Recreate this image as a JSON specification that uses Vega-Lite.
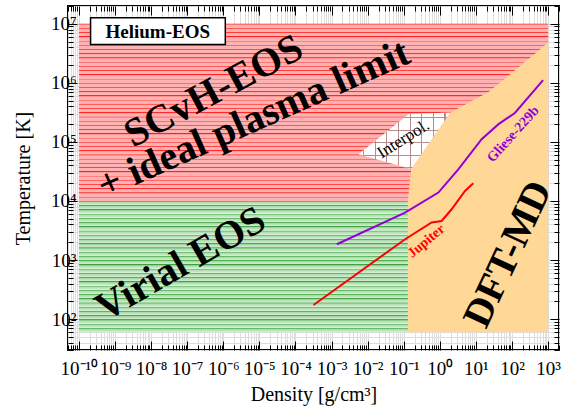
{
  "$schema": "https://vega.github.io/schema/vega-lite/v6.json",
  "width": 491,
  "height": 344,
  "autosize": {"type": "none"},
  "padding": {"left": 68, "top": 6, "right": 5, "bottom": 60},
  "background": "white",
  "config": {"view": {"stroke": "black", "strokeWidth": 2}, "font": "Liberation Serif"},
  "datasets": {
    "scvh": [{"x": 1e-10, "x2": 1000, "y": 10000, "y2": 10000000}],
    "virial": [{"x": 1e-10, "x2": 0.14, "y": 60, "y2": 10000}],
    "dft": [
      {"x": 0.13, "y": 10000, "y2": 60},
      {"x": 0.162, "y": 34700, "y2": 60},
      {"x": 1.95, "y": 316000, "y2": 60},
      {"x": 21.9, "y": 690000, "y2": 60},
      {"x": 282, "y": 2500000, "y2": 60},
      {"x": 1000, "y": 4800000, "y2": 60}
    ],
    "interpol": [
      {"x": 0.0056, "y": 61700, "y2": 61700},
      {"x": 0.135, "y": 295000, "y2": 35800},
      {"x": 0.162, "y": 296000, "y2": 34700},
      {"x": 1.95, "y": 316000, "y2": 316000}
    ],
    "gliese": [
      {"x": 0.0014, "y": 1850},
      {"x": 0.109, "y": 6370},
      {"x": 0.91, "y": 13900},
      {"x": 3.25, "y": 34400},
      {"x": 14.4, "y": 111000},
      {"x": 41.5, "y": 198000},
      {"x": 120, "y": 309000},
      {"x": 724, "y": 1110000}
    ],
    "jupiter": [
      {"x": 0.000316, "y": 173},
      {"x": 0.109, "y": 2250},
      {"x": 0.593, "y": 4320},
      {"x": 1.12, "y": 4590},
      {"x": 2.12, "y": 7240},
      {"x": 4.98, "y": 14800},
      {"x": 8.45, "y": 20000}
    ],
    "labels": [
      {"name": "scvh", "text": "SCvH-EOS", "x": 5.42e-7, "y": 716000},
      {"name": "plasma", "text": "+ ideal plasma limit", "x": 6.93e-6, "y": 241000},
      {"name": "virial", "text": "Virial EOS", "x": 6.64e-8, "y": 851},
      {"name": "dft", "text": "DFT-MD", "x": 78.5, "y": 1256},
      {"name": "interpol", "text": "Interpol.", "x": 0.0977, "y": 111000},
      {"name": "gliese", "text": "Gliese-229b", "x": 108, "y": 134000},
      {"name": "jupiter", "text": "Jupiter", "x": 0.424, "y": 2085},
      {"name": "helium", "text": "Helium-EOS", "x": 1.53e-8, "y": 7400000}
    ],
    "box": [{"x": 2.11e-10, "x2": 1.14e-6, "y": 12600000, "y2": 4470000}]
  },
  "layer": [
    {
      "data": {"name": "scvh"},
      "mark": {"type": "rect", "fill": {"gradient": "linear", "x1": 0, "y1": 0, "x2": 0, "y2": 1, "stops": [
        {"offset": 0, "color": "#ff1a1a"}, {"offset": 0.0071, "color": "#ffb2b2"}, {"offset": 0.0231, "color": "#ffb2b2"},
        {"offset": 0.0238, "color": "#ff1a1a"}, {"offset": 0.0309, "color": "#ffb2b2"}, {"offset": 0.0469, "color": "#ffb2b2"},
        {"offset": 0.0476, "color": "#ff1a1a"}, {"offset": 0.0547, "color": "#ffb2b2"}, {"offset": 0.0707, "color": "#ffb2b2"},
        {"offset": 0.0714, "color": "#ff1a1a"}, {"offset": 0.0785, "color": "#ffb2b2"}, {"offset": 0.0945, "color": "#ffb2b2"},
        {"offset": 0.0952, "color": "#ff1a1a"}, {"offset": 0.1023, "color": "#ffb2b2"}, {"offset": 0.1183, "color": "#ffb2b2"},
        {"offset": 0.1190, "color": "#ff1a1a"}, {"offset": 0.1261, "color": "#ffb2b2"}, {"offset": 0.1421, "color": "#ffb2b2"},
        {"offset": 0.1429, "color": "#ff1a1a"}, {"offset": 0.1500, "color": "#ffb2b2"}, {"offset": 0.1660, "color": "#ffb2b2"},
        {"offset": 0.1667, "color": "#ff1a1a"}, {"offset": 0.1738, "color": "#ffb2b2"}, {"offset": 0.1898, "color": "#ffb2b2"},
        {"offset": 0.1905, "color": "#ff1a1a"}, {"offset": 0.1976, "color": "#ffb2b2"}, {"offset": 0.2136, "color": "#ffb2b2"},
        {"offset": 0.2143, "color": "#ff1a1a"}, {"offset": 0.2214, "color": "#ffb2b2"}, {"offset": 0.2374, "color": "#ffb2b2"},
        {"offset": 0.2381, "color": "#ff1a1a"}, {"offset": 0.2452, "color": "#ffb2b2"}, {"offset": 0.2612, "color": "#ffb2b2"},
        {"offset": 0.2619, "color": "#ff1a1a"}, {"offset": 0.2690, "color": "#ffb2b2"}, {"offset": 0.2850, "color": "#ffb2b2"},
        {"offset": 0.2857, "color": "#ff1a1a"}, {"offset": 0.2928, "color": "#ffb2b2"}, {"offset": 0.3088, "color": "#ffb2b2"},
        {"offset": 0.3095, "color": "#ff1a1a"}, {"offset": 0.3166, "color": "#ffb2b2"}, {"offset": 0.3326, "color": "#ffb2b2"},
        {"offset": 0.3333, "color": "#ff1a1a"}, {"offset": 0.3404, "color": "#ffb2b2"}, {"offset": 0.3564, "color": "#ffb2b2"},
        {"offset": 0.3571, "color": "#ff1a1a"}, {"offset": 0.3642, "color": "#ffb2b2"}, {"offset": 0.3802, "color": "#ffb2b2"},
        {"offset": 0.3810, "color": "#ff1a1a"}, {"offset": 0.3881, "color": "#ffb2b2"}, {"offset": 0.4041, "color": "#ffb2b2"},
        {"offset": 0.4048, "color": "#ff1a1a"}, {"offset": 0.4119, "color": "#ffb2b2"}, {"offset": 0.4279, "color": "#ffb2b2"},
        {"offset": 0.4286, "color": "#ff1a1a"}, {"offset": 0.4357, "color": "#ffb2b2"}, {"offset": 0.4517, "color": "#ffb2b2"},
        {"offset": 0.4524, "color": "#ff1a1a"}, {"offset": 0.4595, "color": "#ffb2b2"}, {"offset": 0.4755, "color": "#ffb2b2"},
        {"offset": 0.4762, "color": "#ff1a1a"}, {"offset": 0.4833, "color": "#ffb2b2"}, {"offset": 0.4993, "color": "#ffb2b2"},
        {"offset": 0.5000, "color": "#ff1a1a"}, {"offset": 0.5071, "color": "#ffb2b2"}, {"offset": 0.5231, "color": "#ffb2b2"},
        {"offset": 0.5238, "color": "#ff1a1a"}, {"offset": 0.5309, "color": "#ffb2b2"}, {"offset": 0.5469, "color": "#ffb2b2"},
        {"offset": 0.5476, "color": "#ff1a1a"}, {"offset": 0.5547, "color": "#ffb2b2"}, {"offset": 0.5707, "color": "#ffb2b2"},
        {"offset": 0.5714, "color": "#ff1a1a"}, {"offset": 0.5785, "color": "#ffb2b2"}, {"offset": 0.5945, "color": "#ffb2b2"},
        {"offset": 0.5952, "color": "#ff1a1a"}, {"offset": 0.6023, "color": "#ffb2b2"}, {"offset": 0.6183, "color": "#ffb2b2"},
        {"offset": 0.6190, "color": "#ff1a1a"}, {"offset": 0.6261, "color": "#ffb2b2"}, {"offset": 0.6421, "color": "#ffb2b2"},
        {"offset": 0.6429, "color": "#ff1a1a"}, {"offset": 0.6500, "color": "#ffb2b2"}, {"offset": 0.6660, "color": "#ffb2b2"},
        {"offset": 0.6667, "color": "#ff1a1a"}, {"offset": 0.6738, "color": "#ffb2b2"}, {"offset": 0.6898, "color": "#ffb2b2"},
        {"offset": 0.6905, "color": "#ff1a1a"}, {"offset": 0.6976, "color": "#ffb2b2"}, {"offset": 0.7136, "color": "#ffb2b2"},
        {"offset": 0.7143, "color": "#ff1a1a"}, {"offset": 0.7214, "color": "#ffb2b2"}, {"offset": 0.7374, "color": "#ffb2b2"},
        {"offset": 0.7381, "color": "#ff1a1a"}, {"offset": 0.7452, "color": "#ffb2b2"}, {"offset": 0.7612, "color": "#ffb2b2"},
        {"offset": 0.7619, "color": "#ff1a1a"}, {"offset": 0.7690, "color": "#ffb2b2"}, {"offset": 0.7850, "color": "#ffb2b2"},
        {"offset": 0.7857, "color": "#ff1a1a"}, {"offset": 0.7928, "color": "#ffb2b2"}, {"offset": 0.8088, "color": "#ffb2b2"},
        {"offset": 0.8095, "color": "#ff1a1a"}, {"offset": 0.8166, "color": "#ffb2b2"}, {"offset": 0.8326, "color": "#ffb2b2"},
        {"offset": 0.8333, "color": "#ff1a1a"}, {"offset": 0.8404, "color": "#ffb2b2"}, {"offset": 0.8564, "color": "#ffb2b2"},
        {"offset": 0.8571, "color": "#ff1a1a"}, {"offset": 0.8642, "color": "#ffb2b2"}, {"offset": 0.8802, "color": "#ffb2b2"},
        {"offset": 0.8810, "color": "#ff1a1a"}, {"offset": 0.8881, "color": "#ffb2b2"}, {"offset": 0.9041, "color": "#ffb2b2"},
        {"offset": 0.9048, "color": "#ff1a1a"}, {"offset": 0.9119, "color": "#ffb2b2"}, {"offset": 0.9279, "color": "#ffb2b2"},
        {"offset": 0.9286, "color": "#ff1a1a"}, {"offset": 0.9357, "color": "#ffb2b2"}, {"offset": 0.9517, "color": "#ffb2b2"},
        {"offset": 0.9524, "color": "#ff1a1a"}, {"offset": 0.9595, "color": "#ffb2b2"}, {"offset": 0.9755, "color": "#ffb2b2"},
        {"offset": 0.9762, "color": "#ff1a1a"}, {"offset": 0.9833, "color": "#ffb2b2"}, {"offset": 1, "color": "#ffb2b2"}
      ]}},
      "encoding": {
        "x": {
          "field": "x", "type": "quantitative",
          "scale": {"type": "log", "domain": [5e-11, 2000], "nice": false},
          "axis": {
            "orient": "bottom", "title": "Density [g/cm³]", "domain": false,
            "values": [5e-11,6e-11,7e-11,8e-11,9e-11,1e-10,2e-10,3e-10,4e-10,5e-10,6e-10,7e-10,8e-10,9e-10,1e-9,2e-9,3e-9,4e-9,5e-9,6e-9,7e-9,8e-9,9e-9,1e-8,2e-8,3e-8,4e-8,5e-8,6e-8,7e-8,8e-8,9e-8,1e-7,2e-7,3e-7,4e-7,5e-7,6e-7,7e-7,8e-7,9e-7,1e-6,2e-6,3e-6,4e-6,5e-6,6e-6,7e-6,8e-6,9e-6,1e-5,2e-5,3e-5,4e-5,5e-5,6e-5,7e-5,8e-5,9e-5,1e-4,2e-4,3e-4,4e-4,5e-4,6e-4,7e-4,8e-4,9e-4,1e-3,2e-3,3e-3,4e-3,5e-3,6e-3,7e-3,8e-3,9e-3,1e-2,2e-2,3e-2,4e-2,5e-2,6e-2,7e-2,8e-2,9e-2,0.1,0.2,0.3,0.4,0.5,0.6,0.7,0.8,0.9,1,2,3,4,5,6,7,8,9,10,20,30,40,50,60,70,80,90,100,200,300,400,500,600,700,800,900,1000,2000],
            "labelExpr": "abs(log(datum.value)/LN10 - round(log(datum.value)/LN10)) < 0.001 ? '10' + ['⁻¹⁰','⁻⁹','⁻⁸','⁻⁷','⁻⁶','⁻⁵','⁻⁴','⁻³','⁻²','⁻¹','⁰','¹','²','³'][round(log(datum.value)/LN10)+10] : ''",
            "labelOverlap": false, "labelFlush": false, "labelFont": "Liberation Serif", "labelFontSize": 19, "labelColor": "black",
            "labelPadding": 18,
            "tickColor": "black", "tickWidth": 1,
            "tickSize": {"condition": {"test": "abs(log(datum.value)/LN10 - round(log(datum.value)/LN10)) < 0.001", "value": -9}, "value": -5},
            "titleFont": "Liberation Serif", "titleFontSize": 20, "titleFontWeight": "normal", "titleColor": "black", "titlePadding": 2
          }
        },
        "x2": {"field": "x2"},
        "y": {
          "field": "y", "type": "quantitative",
          "scale": {"type": "log", "domain": [30, 20000000], "nice": false},
          "axis": {
            "orient": "left", "title": "Temperature [K]", "domain": false,
            "values": [30,40,50,60,70,80,90,100,200,300,400,500,600,700,800,900,1000,2000,3000,4000,5000,6000,7000,8000,9000,10000,20000,30000,40000,50000,60000,70000,80000,90000,100000,200000,300000,400000,500000,600000,700000,800000,900000,1000000,2000000,3000000,4000000,5000000,6000000,7000000,8000000,9000000,10000000,20000000],
            "labelExpr": "abs(log(datum.value)/LN10 - round(log(datum.value)/LN10)) < 0.001 ? '10' + ['¹','²','³','⁴','⁵','⁶','⁷'][round(log(datum.value)/LN10)-1] : ''",
            "labelOverlap": false, "labelFlush": false, "labelFont": "Liberation Serif", "labelFontSize": 19, "labelColor": "black",
            "labelPadding": 1,
            "tickColor": "black", "tickWidth": 1,
            "tickSize": {"condition": {"test": "abs(log(datum.value)/LN10 - round(log(datum.value)/LN10)) < 0.001", "value": -9}, "value": -5},
            "titleFont": "Liberation Serif", "titleFontSize": 20, "titleFontWeight": "normal", "titleColor": "black", "titlePadding": 17
          }
        },
        "y2": {"field": "y2"}
      }
    },
    {
      "data": {"name": "scvh"},
      "mark": {"type": "rect", "opacity": 0},
      "encoding": {
        "x": {
          "field": "x", "type": "quantitative",
          "axis": {
            "orient": "top", "title": null, "domain": false, "labels": false,
            "values": [5e-11,6e-11,7e-11,8e-11,9e-11,1e-10,2e-10,3e-10,4e-10,5e-10,6e-10,7e-10,8e-10,9e-10,1e-9,2e-9,3e-9,4e-9,5e-9,6e-9,7e-9,8e-9,9e-9,1e-8,2e-8,3e-8,4e-8,5e-8,6e-8,7e-8,8e-8,9e-8,1e-7,2e-7,3e-7,4e-7,5e-7,6e-7,7e-7,8e-7,9e-7,1e-6,2e-6,3e-6,4e-6,5e-6,6e-6,7e-6,8e-6,9e-6,1e-5,2e-5,3e-5,4e-5,5e-5,6e-5,7e-5,8e-5,9e-5,1e-4,2e-4,3e-4,4e-4,5e-4,6e-4,7e-4,8e-4,9e-4,1e-3,2e-3,3e-3,4e-3,5e-3,6e-3,7e-3,8e-3,9e-3,1e-2,2e-2,3e-2,4e-2,5e-2,6e-2,7e-2,8e-2,9e-2,0.1,0.2,0.3,0.4,0.5,0.6,0.7,0.8,0.9,1,2,3,4,5,6,7,8,9,10,20,30,40,50,60,70,80,90,100,200,300,400,500,600,700,800,900,1000,2000],
            "tickColor": "black", "tickWidth": 1,
            "tickSize": {"condition": {"test": "abs(log(datum.value)/LN10 - round(log(datum.value)/LN10)) < 0.001", "value": -9}, "value": -5}
          }
        },
        "x2": {"field": "x2"},
        "y": {
          "field": "y", "type": "quantitative",
          "axis": {
            "orient": "right", "title": null, "domain": false, "labels": false,
            "values": [30,40,50,60,70,80,90,100,200,300,400,500,600,700,800,900,1000,2000,3000,4000,5000,6000,7000,8000,9000,10000,20000,30000,40000,50000,60000,70000,80000,90000,100000,200000,300000,400000,500000,600000,700000,800000,900000,1000000,2000000,3000000,4000000,5000000,6000000,7000000,8000000,9000000,10000000,20000000],
            "tickColor": "black", "tickWidth": 1,
            "tickSize": {"condition": {"test": "abs(log(datum.value)/LN10 - round(log(datum.value)/LN10)) < 0.001", "value": -9}, "value": -5}
          }
        },
        "y2": {"field": "y2"}
      }
    },
    {
      "data": {"name": "virial"},
      "mark": {"type": "rect", "fill": {"gradient": "linear", "x1": 0, "y1": 0, "x2": 0, "y2": 1, "stops": [
        {"offset": 0, "color": "#3c9f3c"}, {"offset": 0.0097, "color": "#a9dca9"}, {"offset": 0.0313, "color": "#d8f0d8"},
        {"offset": 0.0323, "color": "#3c9f3c"}, {"offset": 0.0420, "color": "#a9dca9"}, {"offset": 0.0636, "color": "#d8f0d8"},
        {"offset": 0.0645, "color": "#3c9f3c"}, {"offset": 0.0742, "color": "#a9dca9"}, {"offset": 0.0958, "color": "#d8f0d8"},
        {"offset": 0.0968, "color": "#3c9f3c"}, {"offset": 0.1065, "color": "#a9dca9"}, {"offset": 0.1281, "color": "#d8f0d8"},
        {"offset": 0.1290, "color": "#3c9f3c"}, {"offset": 0.1387, "color": "#a9dca9"}, {"offset": 0.1603, "color": "#d8f0d8"},
        {"offset": 0.1613, "color": "#3c9f3c"}, {"offset": 0.1710, "color": "#a9dca9"}, {"offset": 0.1926, "color": "#d8f0d8"},
        {"offset": 0.1935, "color": "#3c9f3c"}, {"offset": 0.2032, "color": "#a9dca9"}, {"offset": 0.2248, "color": "#d8f0d8"},
        {"offset": 0.2258, "color": "#3c9f3c"}, {"offset": 0.2355, "color": "#a9dca9"}, {"offset": 0.2571, "color": "#d8f0d8"},
        {"offset": 0.2581, "color": "#3c9f3c"}, {"offset": 0.2678, "color": "#a9dca9"}, {"offset": 0.2894, "color": "#d8f0d8"},
        {"offset": 0.2903, "color": "#3c9f3c"}, {"offset": 0.3000, "color": "#a9dca9"}, {"offset": 0.3216, "color": "#d8f0d8"},
        {"offset": 0.3226, "color": "#3c9f3c"}, {"offset": 0.3323, "color": "#a9dca9"}, {"offset": 0.3539, "color": "#d8f0d8"},
        {"offset": 0.3548, "color": "#3c9f3c"}, {"offset": 0.3645, "color": "#a9dca9"}, {"offset": 0.3861, "color": "#d8f0d8"},
        {"offset": 0.3871, "color": "#3c9f3c"}, {"offset": 0.3968, "color": "#a9dca9"}, {"offset": 0.4184, "color": "#d8f0d8"},
        {"offset": 0.4194, "color": "#3c9f3c"}, {"offset": 0.4291, "color": "#a9dca9"}, {"offset": 0.4507, "color": "#d8f0d8"},
        {"offset": 0.4516, "color": "#3c9f3c"}, {"offset": 0.4613, "color": "#a9dca9"}, {"offset": 0.4829, "color": "#d8f0d8"},
        {"offset": 0.4839, "color": "#3c9f3c"}, {"offset": 0.4936, "color": "#a9dca9"}, {"offset": 0.5152, "color": "#d8f0d8"},
        {"offset": 0.5161, "color": "#3c9f3c"}, {"offset": 0.5258, "color": "#a9dca9"}, {"offset": 0.5474, "color": "#d8f0d8"},
        {"offset": 0.5484, "color": "#3c9f3c"}, {"offset": 0.5581, "color": "#a9dca9"}, {"offset": 0.5797, "color": "#d8f0d8"},
        {"offset": 0.5806, "color": "#3c9f3c"}, {"offset": 0.5903, "color": "#a9dca9"}, {"offset": 0.6119, "color": "#d8f0d8"},
        {"offset": 0.6129, "color": "#3c9f3c"}, {"offset": 0.6226, "color": "#a9dca9"}, {"offset": 0.6442, "color": "#d8f0d8"},
        {"offset": 0.6452, "color": "#3c9f3c"}, {"offset": 0.6549, "color": "#a9dca9"}, {"offset": 0.6765, "color": "#d8f0d8"},
        {"offset": 0.6774, "color": "#3c9f3c"}, {"offset": 0.6871, "color": "#a9dca9"}, {"offset": 0.7087, "color": "#d8f0d8"},
        {"offset": 0.7097, "color": "#3c9f3c"}, {"offset": 0.7194, "color": "#a9dca9"}, {"offset": 0.7410, "color": "#d8f0d8"},
        {"offset": 0.7419, "color": "#3c9f3c"}, {"offset": 0.7516, "color": "#a9dca9"}, {"offset": 0.7732, "color": "#d8f0d8"},
        {"offset": 0.7742, "color": "#3c9f3c"}, {"offset": 0.7839, "color": "#a9dca9"}, {"offset": 0.8055, "color": "#d8f0d8"},
        {"offset": 0.8065, "color": "#3c9f3c"}, {"offset": 0.8162, "color": "#a9dca9"}, {"offset": 0.8378, "color": "#d8f0d8"},
        {"offset": 0.8387, "color": "#3c9f3c"}, {"offset": 0.8484, "color": "#a9dca9"}, {"offset": 0.8700, "color": "#d8f0d8"},
        {"offset": 0.8710, "color": "#3c9f3c"}, {"offset": 0.8807, "color": "#a9dca9"}, {"offset": 0.9023, "color": "#d8f0d8"},
        {"offset": 0.9032, "color": "#3c9f3c"}, {"offset": 0.9129, "color": "#a9dca9"}, {"offset": 0.9345, "color": "#d8f0d8"},
        {"offset": 0.9355, "color": "#3c9f3c"}, {"offset": 0.9452, "color": "#a9dca9"}, {"offset": 0.9668, "color": "#d8f0d8"},
        {"offset": 0.9677, "color": "#3c9f3c"}, {"offset": 0.9774, "color": "#a9dca9"}, {"offset": 1, "color": "#d8f0d8"}
      ]}},
      "encoding": {
        "x": {"field": "x", "type": "quantitative", "axis": null},
        "x2": {"field": "x2"},
        "y": {"field": "y", "type": "quantitative", "axis": null},
        "y2": {"field": "y2"}
      }
    },
    {
      "data": {"name": "dft"},
      "mark": {"type": "area", "fill": "#ffd898", "opacity": 1},
      "encoding": {
        "x": {"field": "x", "type": "quantitative", "axis": null},
        "y": {"field": "y", "type": "quantitative", "axis": null},
        "y2": {"field": "y2"}
      }
    },
    {
      "data": {"name": "interpol"},
      "mark": {"type": "area", "fill": "white", "opacity": 1},
      "encoding": {
        "x": {"field": "x", "type": "quantitative", "axis": null},
        "y": {"field": "y", "type": "quantitative", "axis": null},
        "y2": {"field": "y2"}
      }
    },
    {
      "data": {"name": "interpol"},
      "mark": {"type": "area", "opacity": 1, "fill": {"gradient": "linear", "x1": 0, "y1": 0, "x2": 1, "y2": 0, "stops": [
        {"offset": 0.048, "color": "rgba(180,140,140,0)"}, {"offset": 0.048, "color": "rgba(180,140,140,1)"}, {"offset": 0.060, "color": "rgba(180,140,140,1)"}, {"offset": 0.060, "color": "rgba(180,140,140,0)"},
        {"offset": 0.176, "color": "rgba(180,140,140,0)"}, {"offset": 0.176, "color": "rgba(180,140,140,1)"}, {"offset": 0.188, "color": "rgba(180,140,140,1)"}, {"offset": 0.188, "color": "rgba(180,140,140,0)"},
        {"offset": 0.302, "color": "rgba(180,140,140,0)"}, {"offset": 0.302, "color": "rgba(180,140,140,1)"}, {"offset": 0.314, "color": "rgba(180,140,140,1)"}, {"offset": 0.314, "color": "rgba(180,140,140,0)"},
        {"offset": 0.429, "color": "rgba(180,140,140,0)"}, {"offset": 0.429, "color": "rgba(180,140,140,1)"}, {"offset": 0.441, "color": "rgba(180,140,140,1)"}, {"offset": 0.441, "color": "rgba(180,140,140,0)"},
        {"offset": 0.556, "color": "rgba(180,140,140,0)"}, {"offset": 0.556, "color": "rgba(180,140,140,1)"}, {"offset": 0.568, "color": "rgba(180,140,140,1)"}, {"offset": 0.568, "color": "rgba(180,140,140,0)"},
        {"offset": 0.682, "color": "rgba(180,140,140,0)"}, {"offset": 0.682, "color": "rgba(180,140,140,1)"}, {"offset": 0.694, "color": "rgba(180,140,140,1)"}, {"offset": 0.694, "color": "rgba(180,140,140,0)"},
        {"offset": 0.809, "color": "rgba(180,140,140,0)"}, {"offset": 0.809, "color": "rgba(180,140,140,1)"}, {"offset": 0.821, "color": "rgba(180,140,140,1)"}, {"offset": 0.821, "color": "rgba(180,140,140,0)"},
        {"offset": 0.936, "color": "rgba(180,140,140,0)"}, {"offset": 0.936, "color": "rgba(180,140,140,1)"}, {"offset": 0.948, "color": "rgba(180,140,140,1)"}, {"offset": 0.948, "color": "rgba(180,140,140,0)"}
      ]}},
      "encoding": {
        "x": {"field": "x", "type": "quantitative", "axis": null},
        "y": {"field": "y", "type": "quantitative", "axis": null},
        "y2": {"field": "y2"}
      }
    },
    {
      "data": {"name": "interpol"},
      "mark": {"type": "area", "opacity": 1, "fill": {"gradient": "linear", "x1": 0, "y1": 0, "x2": 0, "y2": 1, "stops": [
        {"offset": 0.084, "color": "rgba(180,140,140,0)"}, {"offset": 0.084, "color": "rgba(180,140,140,1)"}, {"offset": 0.102, "color": "rgba(180,140,140,1)"}, {"offset": 0.102, "color": "rgba(180,140,140,0)"},
        {"offset": 0.307, "color": "rgba(180,140,140,0)"}, {"offset": 0.307, "color": "rgba(180,140,140,1)"}, {"offset": 0.325, "color": "rgba(180,140,140,1)"}, {"offset": 0.325, "color": "rgba(180,140,140,0)"},
        {"offset": 0.530, "color": "rgba(180,140,140,0)"}, {"offset": 0.530, "color": "rgba(180,140,140,1)"}, {"offset": 0.548, "color": "rgba(180,140,140,1)"}, {"offset": 0.548, "color": "rgba(180,140,140,0)"},
        {"offset": 0.752, "color": "rgba(180,140,140,0)"}, {"offset": 0.752, "color": "rgba(180,140,140,1)"}, {"offset": 0.770, "color": "rgba(180,140,140,1)"}, {"offset": 0.770, "color": "rgba(180,140,140,0)"},
        {"offset": 0.970, "color": "rgba(180,140,140,0)"}, {"offset": 0.970, "color": "rgba(180,140,140,1)"}, {"offset": 0.988, "color": "rgba(180,140,140,1)"}, {"offset": 0.988, "color": "rgba(180,140,140,0)"}
      ]}},
      "encoding": {
        "x": {"field": "x", "type": "quantitative", "axis": null},
        "y": {"field": "y", "type": "quantitative", "axis": null},
        "y2": {"field": "y2"}
      }
    },
    {
      "data": {"name": "gliese"},
      "mark": {"type": "line", "color": "#9400d3", "strokeWidth": 2},
      "encoding": {
        "x": {"field": "x", "type": "quantitative", "axis": null},
        "y": {"field": "y", "type": "quantitative", "axis": null}
      }
    },
    {
      "data": {"name": "jupiter"},
      "mark": {"type": "line", "color": "#ff0000", "strokeWidth": 2},
      "encoding": {
        "x": {"field": "x", "type": "quantitative", "axis": null},
        "y": {"field": "y", "type": "quantitative", "axis": null}
      }
    },
    {
      "data": {"name": "box"},
      "mark": {"type": "rect", "fill": "white", "stroke": "black", "strokeWidth": 1.5},
      "encoding": {
        "x": {"field": "x", "type": "quantitative", "axis": null},
        "x2": {"field": "x2"},
        "y": {"field": "y", "type": "quantitative", "axis": null},
        "y2": {"field": "y2"}
      }
    },
    {
      "data": {"name": "labels"},
      "transform": [{"filter": "datum.name == 'helium'"}],
      "mark": {"type": "text", "font": "Liberation Serif", "fontWeight": "bold", "fontSize": 19, "color": "black", "align": "center", "baseline": "middle"},
      "encoding": {
        "x": {"field": "x", "type": "quantitative", "axis": null},
        "y": {"field": "y", "type": "quantitative", "axis": null},
        "text": {"field": "text"}
      }
    },
    {
      "data": {"name": "labels"},
      "transform": [{"filter": "datum.name == 'scvh'"}],
      "mark": {"type": "text", "font": "Liberation Serif", "fontWeight": "bold", "fontSize": 40, "color": "black", "align": "center", "baseline": "middle", "angle": 332},
      "encoding": {
        "x": {"field": "x", "type": "quantitative", "axis": null},
        "y": {"field": "y", "type": "quantitative", "axis": null},
        "text": {"field": "text"}
      }
    },
    {
      "data": {"name": "labels"},
      "transform": [{"filter": "datum.name == 'plasma'"}],
      "mark": {"type": "text", "font": "Liberation Serif", "fontWeight": "bold", "fontSize": 40, "color": "black", "align": "center", "baseline": "middle", "angle": 336},
      "encoding": {
        "x": {"field": "x", "type": "quantitative", "axis": null},
        "y": {"field": "y", "type": "quantitative", "axis": null},
        "text": {"field": "text"}
      }
    },
    {
      "data": {"name": "labels"},
      "transform": [{"filter": "datum.name == 'virial'"}],
      "mark": {"type": "text", "font": "Liberation Serif", "fontWeight": "bold", "fontSize": 40, "color": "black", "align": "center", "baseline": "middle", "angle": 330},
      "encoding": {
        "x": {"field": "x", "type": "quantitative", "axis": null},
        "y": {"field": "y", "type": "quantitative", "axis": null},
        "text": {"field": "text"}
      }
    },
    {
      "data": {"name": "labels"},
      "transform": [{"filter": "datum.name == 'dft'"}],
      "mark": {"type": "text", "font": "Liberation Serif", "fontWeight": "bold", "fontSize": 40, "color": "black", "align": "center", "baseline": "middle", "angle": 295},
      "encoding": {
        "x": {"field": "x", "type": "quantitative", "axis": null},
        "y": {"field": "y", "type": "quantitative", "axis": null},
        "text": {"field": "text"}
      }
    },
    {
      "data": {"name": "labels"},
      "transform": [{"filter": "datum.name == 'interpol'"}],
      "mark": {"type": "text", "font": "Liberation Serif", "fontSize": 17, "color": "black", "align": "center", "baseline": "middle", "angle": 328},
      "encoding": {
        "x": {"field": "x", "type": "quantitative", "axis": null},
        "y": {"field": "y", "type": "quantitative", "axis": null},
        "text": {"field": "text"}
      }
    },
    {
      "data": {"name": "labels"},
      "transform": [{"filter": "datum.name == 'gliese'"}],
      "mark": {"type": "text", "font": "Liberation Serif", "fontWeight": "bold", "fontSize": 14, "color": "#9400d3", "align": "center", "baseline": "middle", "angle": 312},
      "encoding": {
        "x": {"field": "x", "type": "quantitative", "axis": null},
        "y": {"field": "y", "type": "quantitative", "axis": null},
        "text": {"field": "text"}
      }
    },
    {
      "data": {"name": "labels"},
      "transform": [{"filter": "datum.name == 'jupiter'"}],
      "mark": {"type": "text", "font": "Liberation Serif", "fontWeight": "bold", "fontSize": 14, "color": "#ff0000", "align": "center", "baseline": "middle", "angle": 320},
      "encoding": {
        "x": {"field": "x", "type": "quantitative", "axis": null},
        "y": {"field": "y", "type": "quantitative", "axis": null},
        "text": {"field": "text"}
      }
    }
  ],
  "resolve": {"axis": {"x": "independent", "y": "independent"}}
}
